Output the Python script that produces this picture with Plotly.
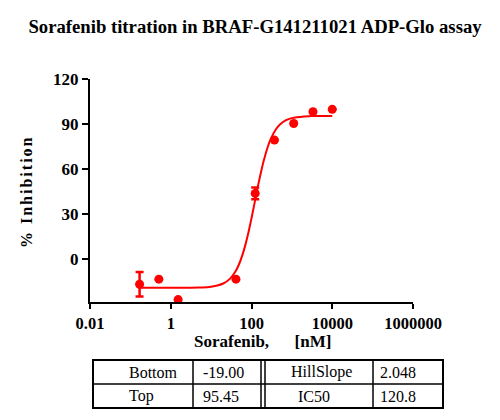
import plotly.graph_objects as go

# measured points (nM, % inhibition)
conc_nM = [0.169, 0.508, 1.52, 41.2, 123.5, 370, 1111, 3333, 10000]
inhibition = [-16.7, -13.3, -26.9, -13.3, 43.8, 79.3, 90.4, 98.2, 99.8]
inhibition_err = [8.1, 0, 0, 0, 3.9, 0, 0, 0, 0]

# fitted curve
fit_conc = [0.169, 1, 5, 10, 20, 30, 40, 50, 60, 70, 85, 100, 120, 150, 175,
            200, 250, 300, 400, 500, 700, 1000, 2000, 3000, 10000]
fit_inhib = [-19.0, -18.99, -18.83, -18.31, -16.19, -12.76, -8.22, -2.86, 3.04,
             9.21, 18.47, 27.28, 37.84, 50.71, 58.96, 65.40, 74.39, 80.07,
             86.38, 89.53, 92.40, 93.96, 95.09, 95.29, 95.44]

# fit parameter table
param_names_left = ["Bottom", "Top"]
param_values_left = ["-19.00", "95.45"]
param_names_right = ["HillSlope", "IC50"]
param_values_right = ["2.048", "120.8"]

x_ticks = [0.01, 1, 100, 10000, 1000000]
x_tick_text = ["0.01", "1", "100", "10000", "1000000"]
y_ticks = [0, 30, 60, 90, 120]
y_tick_text = ["0", "30", "60", "90", "120"]

SERIF = "Liberation Serif"
RED = "#ff0000"

# page body has an 8px margin, so the figure is a bit smaller than the window
OFF = 8
W, H = 500 - OFF, 420 - OFF

# plot area in window pixels (used for placing the table / titles)
L, R, T, B = 90, 413, 79, 302


def px(x):
    return (x - L) / (R - L)


def py(y):
    return (B - y) / (B - T)


fig = go.Figure()

fig.add_trace(go.Scatter(
    x=fit_conc, y=fit_inhib, mode="lines",
    line=dict(color=RED, width=2, shape="spline"),
    hoverinfo="skip",
))

fig.add_trace(go.Scatter(
    x=conc_nM, y=inhibition, mode="markers",
    marker=dict(color=RED, size=9, symbol="circle"),
    error_y=dict(type="data", array=inhibition_err, color=RED, thickness=2.5, width=4),
))

fig.update_xaxes(
    type="log", range=[-2, 6], tickvals=x_ticks,
    ticktext=["<b>%s</b>" % t for t in x_tick_text],
    showgrid=False, zeroline=False, showline=True, linecolor="black", linewidth=2,
    ticks="outside", ticklen=5, tickwidth=2, tickcolor="black",
    tickfont=dict(family=SERIF, size=16.5, color="black"),
)
fig.update_yaxes(
    range=[-28.5, 120], tickvals=y_ticks,
    ticktext=["<b>%s</b>" % t for t in y_tick_text],
    showgrid=False, zeroline=False, showline=True, linecolor="black", linewidth=2,
    ticks="outside", ticklen=6, tickwidth=2, tickcolor="black",
    tickfont=dict(family=SERIF, size=17, color="black"),
)

annotations = [
    dict(text="<b>Sorafenib," + "\u00a0" * 6 + "[nM]</b>", x=px(262), y=py(341), xref="paper", yref="paper",
         xanchor="center", yanchor="middle",
         showarrow=False, font=dict(family=SERIF, size=17, color="black")),
    dict(text='<span style="letter-spacing:2px"><b>% Inhibition</b></span>', x=px(26), y=py(192),
         xref="paper", yref="paper", xanchor="center", yanchor="middle",
         showarrow=False, textangle=-90, font=dict(family=SERIF, size=16, color="black")),
]

# table text
cell_font = dict(family=SERIF, size=16, color="black")
row_y = [372, 396]
for i in range(2):
    for label, xpos in [(param_names_left[i], 127), (param_values_left[i], 201),
                        (param_values_right[i], 378)]:
        annotations.append(dict(text=label, x=px(xpos), y=py(row_y[i]), xref="paper", yref="paper",
                                xanchor="left", yanchor="middle", showarrow=False, font=cell_font))
annotations.append(dict(text=param_names_right[0], x=px(289), y=py(row_y[0]), xref="paper", yref="paper",
                        xanchor="left", yanchor="middle", showarrow=False, font=cell_font))
annotations.append(dict(text=param_names_right[1], x=px(296), y=py(row_y[1]), xref="paper", yref="paper",
                        xanchor="left", yanchor="middle", showarrow=False, font=cell_font))

# table borders
shapes = [dict(type="rect", x0=px(93), x1=px(443), y0=py(360), y1=py(408),
               xref="paper", yref="paper", line=dict(color="black", width=2))]
shapes.append(dict(type="line", x0=px(93), x1=px(443), y0=py(384), y1=py(384),
                   xref="paper", yref="paper", line=dict(color="black", width=1.5)))
for xv in [193, 261, 265, 373]:
    shapes.append(dict(type="line", x0=px(xv), x1=px(xv), y0=py(360), y1=py(408),
                       xref="paper", yref="paper", line=dict(color="black", width=1.5)))

fig.update_layout(
    width=W, height=H,
    margin=dict(l=L - OFF, r=500 - R, t=T - OFF, b=420 - B),
    paper_bgcolor="white", plot_bgcolor="white",
    showlegend=False,
    title=dict(text="<b>Sorafenib titration in BRAF-G141211021 ADP-Glo assay</b>",
               x=(255 - OFF) / W, xref="container", xanchor="center",
               y=1 - (26 - OFF) / H, yref="container", yanchor="middle",
               font=dict(family=SERIF, size=18.7, color="black")),
    annotations=annotations,
    shapes=shapes,
)

fig.write_html("out.html")
